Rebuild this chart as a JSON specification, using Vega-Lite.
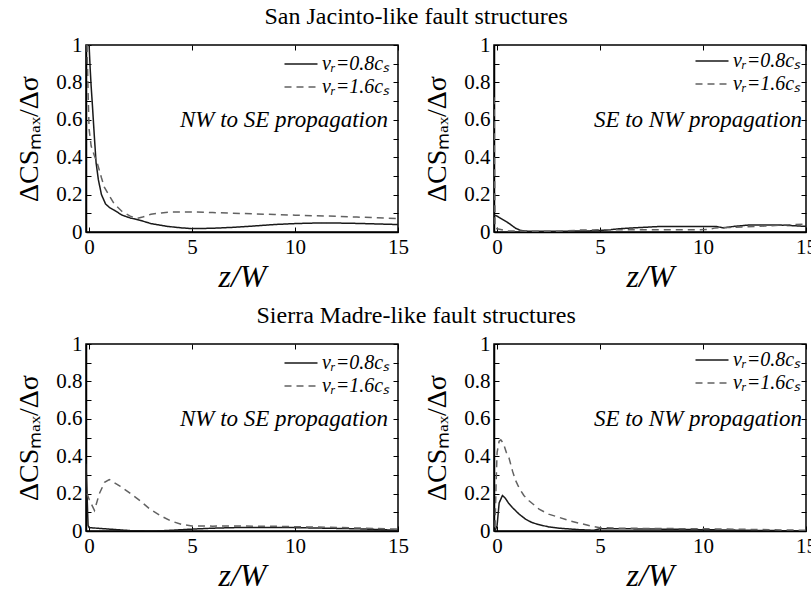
{
  "$schema": "https://vega.github.io/schema/vega-lite/v6.json",
  "background": "white",
  "padding": {"left": 15, "top": 5, "right": 2, "bottom": 2},
  "config": {
    "font": "Liberation Serif, Times New Roman, serif",
    "view": {"stroke": "black", "strokeWidth": 1.5},
    "style": {"guide-label": {"font": "Liberation Serif, Times New Roman, serif"}, "guide-title": {"font": "Liberation Serif, Times New Roman, serif"}, "group-title": {"font": "Liberation Serif, Times New Roman, serif"}},
    "text": {"font": "Liberation Serif, Times New Roman, serif"},
    "axis": {
      "labelFont": "Liberation Serif, Times New Roman, serif", "labelFontSize": 21, "labelColor": "black",
      "titleFont": "Liberation Serif, Times New Roman, serif", "titleColor": "black", "titleFontWeight": "normal",
      "domainColor": "black", "domainWidth": 1.5, "tickColor": "black", "tickWidth": 1,
      "tickSize": -5, "labelPadding": 9, "labelFlush": false, "labelOverlap": false, "grid": false
    },
    "legend": {
      "orient": "top-right", "offset": 8, "padding": 0, "title": null,
      "labelFont": "Liberation Serif, Times New Roman, serif", "labelFontStyle": "italic", "labelFontSize": 20, "labelColor": "black",
      "symbolType": "M-1.65,0H1.65", "symbolSize": 400, "symbolStrokeWidth": 1.4, "rowPadding": 2, "labelOffset": 10
    },
    "title": {"font": "Liberation Serif, Times New Roman, serif", "fontSize": 24, "fontWeight": "normal", "color": "black", "anchor": "middle"}
  },
  "datasets": {
    "sj_nwse": [
      {"s": "vᵣ=0.8cₛ", "z": 0, "v": 1.0}, {"s": "vᵣ=0.8cₛ", "z": 0.05, "v": 0.88}, {"s": "vᵣ=0.8cₛ", "z": 0.1, "v": 0.78},
      {"s": "vᵣ=0.8cₛ", "z": 0.16, "v": 0.68}, {"s": "vᵣ=0.8cₛ", "z": 0.25, "v": 0.52}, {"s": "vᵣ=0.8cₛ", "z": 0.34, "v": 0.37},
      {"s": "vᵣ=0.8cₛ", "z": 0.45, "v": 0.28}, {"s": "vᵣ=0.8cₛ", "z": 0.6, "v": 0.2}, {"s": "vᵣ=0.8cₛ", "z": 0.8, "v": 0.15},
      {"s": "vᵣ=0.8cₛ", "z": 1.0, "v": 0.13}, {"s": "vᵣ=0.8cₛ", "z": 1.25, "v": 0.115}, {"s": "vᵣ=0.8cₛ", "z": 1.6, "v": 0.09},
      {"s": "vᵣ=0.8cₛ", "z": 2.0, "v": 0.075}, {"s": "vᵣ=0.8cₛ", "z": 2.5, "v": 0.062}, {"s": "vᵣ=0.8cₛ", "z": 3.0, "v": 0.045},
      {"s": "vᵣ=0.8cₛ", "z": 3.8, "v": 0.03}, {"s": "vᵣ=0.8cₛ", "z": 4.5, "v": 0.022}, {"s": "vᵣ=0.8cₛ", "z": 5.0, "v": 0.018},
      {"s": "vᵣ=0.8cₛ", "z": 6, "v": 0.02}, {"s": "vᵣ=0.8cₛ", "z": 7, "v": 0.025}, {"s": "vᵣ=0.8cₛ", "z": 8, "v": 0.032},
      {"s": "vᵣ=0.8cₛ", "z": 9, "v": 0.04}, {"s": "vᵣ=0.8cₛ", "z": 10, "v": 0.045}, {"s": "vᵣ=0.8cₛ", "z": 11, "v": 0.048},
      {"s": "vᵣ=0.8cₛ", "z": 12, "v": 0.048}, {"s": "vᵣ=0.8cₛ", "z": 13, "v": 0.046}, {"s": "vᵣ=0.8cₛ", "z": 14, "v": 0.043},
      {"s": "vᵣ=0.8cₛ", "z": 15, "v": 0.04},
      {"s": "vᵣ=1.6cₛ", "z": -0.1, "v": 1.0}, {"s": "vᵣ=1.6cₛ", "z": -0.05, "v": 0.75}, {"s": "vᵣ=1.6cₛ", "z": 0.0, "v": 0.55},
      {"s": "vᵣ=1.6cₛ", "z": 0.1, "v": 0.46}, {"s": "vᵣ=1.6cₛ", "z": 0.25, "v": 0.41}, {"s": "vᵣ=1.6cₛ", "z": 0.42, "v": 0.36},
      {"s": "vᵣ=1.6cₛ", "z": 0.6, "v": 0.29}, {"s": "vᵣ=1.6cₛ", "z": 0.74, "v": 0.24}, {"s": "vᵣ=1.6cₛ", "z": 1.0, "v": 0.19},
      {"s": "vᵣ=1.6cₛ", "z": 1.22, "v": 0.15}, {"s": "vᵣ=1.6cₛ", "z": 1.6, "v": 0.11}, {"s": "vᵣ=1.6cₛ", "z": 2.0, "v": 0.085},
      {"s": "vᵣ=1.6cₛ", "z": 2.3, "v": 0.072}, {"s": "vᵣ=1.6cₛ", "z": 2.6, "v": 0.08}, {"s": "vᵣ=1.6cₛ", "z": 3.0, "v": 0.095},
      {"s": "vᵣ=1.6cₛ", "z": 3.5, "v": 0.102}, {"s": "vᵣ=1.6cₛ", "z": 4.0, "v": 0.107}, {"s": "vᵣ=1.6cₛ", "z": 5.0, "v": 0.107},
      {"s": "vᵣ=1.6cₛ", "z": 6.0, "v": 0.104}, {"s": "vᵣ=1.6cₛ", "z": 7.0, "v": 0.1}, {"s": "vᵣ=1.6cₛ", "z": 8.0, "v": 0.097},
      {"s": "vᵣ=1.6cₛ", "z": 9.0, "v": 0.094}, {"s": "vᵣ=1.6cₛ", "z": 10.0, "v": 0.09}, {"s": "vᵣ=1.6cₛ", "z": 11.0, "v": 0.087},
      {"s": "vᵣ=1.6cₛ", "z": 12.0, "v": 0.084}, {"s": "vᵣ=1.6cₛ", "z": 13.0, "v": 0.08}, {"s": "vᵣ=1.6cₛ", "z": 14.0, "v": 0.076},
      {"s": "vᵣ=1.6cₛ", "z": 15.0, "v": 0.071}
    ],
    "sj_senw": [
      {"s": "vᵣ=0.8cₛ", "z": -0.15, "v": 0.09}, {"s": "vᵣ=0.8cₛ", "z": 0, "v": 0.085}, {"s": "vᵣ=0.8cₛ", "z": 0.3, "v": 0.065},
      {"s": "vᵣ=0.8cₛ", "z": 0.58, "v": 0.046}, {"s": "vᵣ=0.8cₛ", "z": 0.9, "v": 0.02}, {"s": "vᵣ=0.8cₛ", "z": 1.15, "v": 0.008},
      {"s": "vᵣ=0.8cₛ", "z": 1.5, "v": 0.004}, {"s": "vᵣ=0.8cₛ", "z": 3, "v": 0.004}, {"s": "vᵣ=0.8cₛ", "z": 4.5, "v": 0.006},
      {"s": "vᵣ=0.8cₛ", "z": 5.3, "v": 0.01}, {"s": "vᵣ=0.8cₛ", "z": 6, "v": 0.018}, {"s": "vᵣ=0.8cₛ", "z": 6.6, "v": 0.022},
      {"s": "vᵣ=0.8cₛ", "z": 8, "v": 0.03}, {"s": "vᵣ=0.8cₛ", "z": 9.5, "v": 0.03}, {"s": "vᵣ=0.8cₛ", "z": 10.6, "v": 0.03},
      {"s": "vᵣ=0.8cₛ", "z": 11, "v": 0.022}, {"s": "vᵣ=0.8cₛ", "z": 11.5, "v": 0.03}, {"s": "vᵣ=0.8cₛ", "z": 12.2, "v": 0.037},
      {"s": "vᵣ=0.8cₛ", "z": 13.8, "v": 0.037}, {"s": "vᵣ=0.8cₛ", "z": 15, "v": 0.03},
      {"s": "vᵣ=1.6cₛ", "z": -0.15, "v": 0.72}, {"s": "vᵣ=1.6cₛ", "z": -0.1, "v": 0.02}, {"s": "vᵣ=1.6cₛ", "z": 0.5, "v": 0.005},
      {"s": "vᵣ=1.6cₛ", "z": 3, "v": 0.004}, {"s": "vᵣ=1.6cₛ", "z": 4, "v": 0.01}, {"s": "vᵣ=1.6cₛ", "z": 5, "v": 0.012},
      {"s": "vᵣ=1.6cₛ", "z": 7, "v": 0.012}, {"s": "vᵣ=1.6cₛ", "z": 9, "v": 0.012}, {"s": "vᵣ=1.6cₛ", "z": 10.3, "v": 0.013},
      {"s": "vᵣ=1.6cₛ", "z": 10.6, "v": 0.022}, {"s": "vᵣ=1.6cₛ", "z": 12, "v": 0.027}, {"s": "vᵣ=1.6cₛ", "z": 13, "v": 0.032},
      {"s": "vᵣ=1.6cₛ", "z": 14, "v": 0.038}, {"s": "vᵣ=1.6cₛ", "z": 15, "v": 0.042}
    ],
    "sm_nwse": [
      {"s": "vᵣ=0.8cₛ", "z": -0.15, "v": 0.36}, {"s": "vᵣ=0.8cₛ", "z": -0.1, "v": 0.2}, {"s": "vᵣ=0.8cₛ", "z": -0.05, "v": 0.03},
      {"s": "vᵣ=0.8cₛ", "z": 0.0, "v": 0.018}, {"s": "vᵣ=0.8cₛ", "z": 0.5, "v": 0.014}, {"s": "vᵣ=0.8cₛ", "z": 1.0, "v": 0.01},
      {"s": "vᵣ=0.8cₛ", "z": 2.0, "v": 0.002}, {"s": "vᵣ=0.8cₛ", "z": 3.0, "v": 0.0}, {"s": "vᵣ=0.8cₛ", "z": 3.5, "v": 0.001},
      {"s": "vᵣ=0.8cₛ", "z": 4.0, "v": 0.004}, {"s": "vᵣ=0.8cₛ", "z": 5.0, "v": 0.01}, {"s": "vᵣ=0.8cₛ", "z": 6.0, "v": 0.015},
      {"s": "vᵣ=0.8cₛ", "z": 7.0, "v": 0.018}, {"s": "vᵣ=0.8cₛ", "z": 8, "v": 0.019}, {"s": "vᵣ=0.8cₛ", "z": 9, "v": 0.019},
      {"s": "vᵣ=0.8cₛ", "z": 10, "v": 0.018}, {"s": "vᵣ=0.8cₛ", "z": 11, "v": 0.016}, {"s": "vᵣ=0.8cₛ", "z": 12, "v": 0.014},
      {"s": "vᵣ=0.8cₛ", "z": 13, "v": 0.012}, {"s": "vᵣ=0.8cₛ", "z": 14, "v": 0.008}, {"s": "vᵣ=0.8cₛ", "z": 15, "v": 0.004},
      {"s": "vᵣ=1.6cₛ", "z": -0.1, "v": 0.2}, {"s": "vᵣ=1.6cₛ", "z": 0.0, "v": 0.17}, {"s": "vᵣ=1.6cₛ", "z": 0.26, "v": 0.11},
      {"s": "vᵣ=1.6cₛ", "z": 0.5, "v": 0.2}, {"s": "vᵣ=1.6cₛ", "z": 0.75, "v": 0.26}, {"s": "vᵣ=1.6cₛ", "z": 0.98, "v": 0.275},
      {"s": "vᵣ=1.6cₛ", "z": 1.5, "v": 0.24}, {"s": "vᵣ=1.6cₛ", "z": 1.95, "v": 0.205}, {"s": "vᵣ=1.6cₛ", "z": 2.5, "v": 0.16},
      {"s": "vᵣ=1.6cₛ", "z": 2.95, "v": 0.117}, {"s": "vᵣ=1.6cₛ", "z": 3.5, "v": 0.08}, {"s": "vᵣ=1.6cₛ", "z": 3.96, "v": 0.054},
      {"s": "vᵣ=1.6cₛ", "z": 4.5, "v": 0.035}, {"s": "vᵣ=1.6cₛ", "z": 5, "v": 0.027}, {"s": "vᵣ=1.6cₛ", "z": 6, "v": 0.026},
      {"s": "vᵣ=1.6cₛ", "z": 7, "v": 0.027}, {"s": "vᵣ=1.6cₛ", "z": 8, "v": 0.026}, {"s": "vᵣ=1.6cₛ", "z": 9, "v": 0.025},
      {"s": "vᵣ=1.6cₛ", "z": 10, "v": 0.023}, {"s": "vᵣ=1.6cₛ", "z": 11, "v": 0.021}, {"s": "vᵣ=1.6cₛ", "z": 12, "v": 0.019},
      {"s": "vᵣ=1.6cₛ", "z": 13, "v": 0.016}, {"s": "vᵣ=1.6cₛ", "z": 14, "v": 0.013}, {"s": "vᵣ=1.6cₛ", "z": 15, "v": 0.01}
    ],
    "sm_senw": [
      {"s": "vᵣ=0.8cₛ", "z": -0.1, "v": 0.0}, {"s": "vᵣ=0.8cₛ", "z": 0.0, "v": 0.03}, {"s": "vᵣ=0.8cₛ", "z": 0.1, "v": 0.15},
      {"s": "vᵣ=0.8cₛ", "z": 0.26, "v": 0.19}, {"s": "vᵣ=0.8cₛ", "z": 0.4, "v": 0.175}, {"s": "vᵣ=0.8cₛ", "z": 0.55, "v": 0.15},
      {"s": "vᵣ=0.8cₛ", "z": 0.74, "v": 0.126}, {"s": "vᵣ=0.8cₛ", "z": 1.07, "v": 0.09}, {"s": "vᵣ=0.8cₛ", "z": 1.4, "v": 0.062},
      {"s": "vᵣ=0.8cₛ", "z": 1.7, "v": 0.045}, {"s": "vᵣ=0.8cₛ", "z": 2.0, "v": 0.035}, {"s": "vᵣ=0.8cₛ", "z": 2.5, "v": 0.022},
      {"s": "vᵣ=0.8cₛ", "z": 3, "v": 0.015}, {"s": "vᵣ=0.8cₛ", "z": 4, "v": 0.007}, {"s": "vᵣ=0.8cₛ", "z": 4.7, "v": 0.004},
      {"s": "vᵣ=0.8cₛ", "z": 5, "v": 0.012}, {"s": "vᵣ=0.8cₛ", "z": 6, "v": 0.012}, {"s": "vᵣ=0.8cₛ", "z": 7, "v": 0.011},
      {"s": "vᵣ=0.8cₛ", "z": 8, "v": 0.01}, {"s": "vᵣ=0.8cₛ", "z": 10, "v": 0.007}, {"s": "vᵣ=0.8cₛ", "z": 12, "v": 0.004},
      {"s": "vᵣ=0.8cₛ", "z": 15, "v": 0.0},
      {"s": "vᵣ=1.6cₛ", "z": -0.1, "v": 0.02}, {"s": "vᵣ=1.6cₛ", "z": -0.05, "v": 0.25}, {"s": "vᵣ=1.6cₛ", "z": 0.0, "v": 0.42},
      {"s": "vᵣ=1.6cₛ", "z": 0.1, "v": 0.48}, {"s": "vᵣ=1.6cₛ", "z": 0.18, "v": 0.487}, {"s": "vᵣ=1.6cₛ", "z": 0.3, "v": 0.47},
      {"s": "vᵣ=1.6cₛ", "z": 0.45, "v": 0.42}, {"s": "vᵣ=1.6cₛ", "z": 0.58, "v": 0.39}, {"s": "vᵣ=1.6cₛ", "z": 0.75, "v": 0.32},
      {"s": "vᵣ=1.6cₛ", "z": 0.9, "v": 0.27}, {"s": "vᵣ=1.6cₛ", "z": 1.07, "v": 0.23}, {"s": "vᵣ=1.6cₛ", "z": 1.3, "v": 0.19},
      {"s": "vᵣ=1.6cₛ", "z": 1.55, "v": 0.162}, {"s": "vᵣ=1.6cₛ", "z": 2.04, "v": 0.117}, {"s": "vᵣ=1.6cₛ", "z": 2.5, "v": 0.09},
      {"s": "vᵣ=1.6cₛ", "z": 3.04, "v": 0.072}, {"s": "vᵣ=1.6cₛ", "z": 3.5, "v": 0.055}, {"s": "vᵣ=1.6cₛ", "z": 4.06, "v": 0.04},
      {"s": "vᵣ=1.6cₛ", "z": 4.5, "v": 0.028}, {"s": "vᵣ=1.6cₛ", "z": 5, "v": 0.018}, {"s": "vᵣ=1.6cₛ", "z": 6, "v": 0.015},
      {"s": "vᵣ=1.6cₛ", "z": 7, "v": 0.014}, {"s": "vᵣ=1.6cₛ", "z": 8, "v": 0.013}, {"s": "vᵣ=1.6cₛ", "z": 10, "v": 0.012},
      {"s": "vᵣ=1.6cₛ", "z": 12, "v": 0.009}, {"s": "vᵣ=1.6cₛ", "z": 15, "v": 0.004}
    ]
  },
  "spacing": 11,
  "vconcat": [
    {
      "title": {"text": "San Jacinto-like fault structures", "offset": 4},
      "spacing": 13,
      "hconcat": [
        {
          "width": 312, "height": 187,
          "data": {"name": "sj_nwse"},
          "layer": [
            {
              "mark": {"type": "line", "strokeWidth": 1.5, "clip": true},
              "encoding": {
                "x": {"field": "z", "type": "quantitative", "scale": {"domain": [-0.15, 15], "nice": false, "zero": false}, "axis": {"orient": "bottom", "values": [0, 5, 10, 15], "title": "z/W", "titleFontSize": 32, "titleFontStyle": "italic", "titlePadding": 4}},
                "y": {"field": "v", "type": "quantitative", "scale": {"domain": [0, 1], "nice": false}, "axis": {"orient": "left", "values": [0, 0.1, 0.2, 0.3, 0.4, 0.5, 0.6, 0.7, 0.8, 0.9, 1], "labelExpr": "round(datum.value*10) % 2 == 0 ? format(datum.value, '~g') : ''", "title": "ΔCSₘₐₓ/Δσ", "titleFontSize": 28, "titlePadding": 12}},
                "color": {"field": "s", "type": "nominal", "scale": {"domain": ["vᵣ=0.8cₛ", "vᵣ=1.6cₛ"], "range": ["#1a1a1a", "#626262"]}, "legend": {"offset": 8}},
                "strokeDash": {"field": "s", "type": "nominal", "scale": {"domain": ["vᵣ=0.8cₛ", "vᵣ=1.6cₛ"], "range": [[1, 0], [7, 5]]}, "legend": {"offset": 8}}
              }
            },
            {
              "data": {"values": [{}]},
              "mark": {"type": "text", "align": "right", "baseline": "middle", "fontStyle": "italic", "fontSize": 23, "dx": -10, "color": "black"},
              "encoding": {
                "x": {"datum": 15, "type": "quantitative", "axis": {"orient": "top", "values": [0, 5, 10, 15], "labels": false, "title": null, "domain": false}},
                "y": {"datum": 0.6, "type": "quantitative", "axis": {"orient": "right", "values": [0, 0.1, 0.2, 0.3, 0.4, 0.5, 0.6, 0.7, 0.8, 0.9, 1], "labels": false, "title": null, "domain": false}},
                "text": {"value": "NW to SE propagation"}
              }
            }
          ],
          "resolve": {"axis": {"x": "independent", "y": "independent"}}
        },
        {
          "width": 312, "height": 187,
          "data": {"name": "sj_senw"},
          "layer": [
            {
              "mark": {"type": "line", "strokeWidth": 1.5, "clip": true},
              "encoding": {
                "x": {"field": "z", "type": "quantitative", "scale": {"domain": [-0.15, 15], "nice": false, "zero": false}, "axis": {"orient": "bottom", "values": [0, 5, 10, 15], "title": "z/W", "titleFontSize": 32, "titleFontStyle": "italic", "titlePadding": 4}},
                "y": {"field": "v", "type": "quantitative", "scale": {"domain": [0, 1], "nice": false}, "axis": {"orient": "left", "values": [0, 0.1, 0.2, 0.3, 0.4, 0.5, 0.6, 0.7, 0.8, 0.9, 1], "labelExpr": "round(datum.value*10) % 2 == 0 ? format(datum.value, '~g') : ''", "title": "ΔCSₘₐₓ/Δσ", "titleFontSize": 28, "titlePadding": 12}},
                "color": {"field": "s", "type": "nominal", "scale": {"domain": ["vᵣ=0.8cₛ", "vᵣ=1.6cₛ"], "range": ["#1a1a1a", "#626262"]}, "legend": {"offset": 5}},
                "strokeDash": {"field": "s", "type": "nominal", "scale": {"domain": ["vᵣ=0.8cₛ", "vᵣ=1.6cₛ"], "range": [[1, 0], [7, 5]]}, "legend": {"offset": 5}}
              }
            },
            {
              "data": {"values": [{}]},
              "mark": {"type": "text", "align": "right", "baseline": "middle", "fontStyle": "italic", "fontSize": 23, "dx": -4, "color": "black"},
              "encoding": {
                "x": {"datum": 15, "type": "quantitative", "axis": {"orient": "top", "values": [0, 5, 10, 15], "labels": false, "title": null, "domain": false}},
                "y": {"datum": 0.6, "type": "quantitative", "axis": {"orient": "right", "values": [0, 0.1, 0.2, 0.3, 0.4, 0.5, 0.6, 0.7, 0.8, 0.9, 1], "labels": false, "title": null, "domain": false}},
                "text": {"value": "SE to NW propagation"}
              }
            }
          ],
          "resolve": {"axis": {"x": "independent", "y": "independent"}}
        }
      ],
      "resolve": {"scale": {"color": "independent", "strokeDash": "independent"}}
    },
    {
      "title": {"text": "Sierra Madre-like fault structures", "offset": 4},
      "spacing": 13,
      "hconcat": [
        {
          "width": 312, "height": 187,
          "data": {"name": "sm_nwse"},
          "layer": [
            {
              "mark": {"type": "line", "strokeWidth": 1.5, "clip": true},
              "encoding": {
                "x": {"field": "z", "type": "quantitative", "scale": {"domain": [-0.15, 15], "nice": false, "zero": false}, "axis": {"orient": "bottom", "values": [0, 5, 10, 15], "title": "z/W", "titleFontSize": 32, "titleFontStyle": "italic", "titlePadding": 4}},
                "y": {"field": "v", "type": "quantitative", "scale": {"domain": [0, 1], "nice": false}, "axis": {"orient": "left", "values": [0, 0.1, 0.2, 0.3, 0.4, 0.5, 0.6, 0.7, 0.8, 0.9, 1], "labelExpr": "round(datum.value*10) % 2 == 0 ? format(datum.value, '~g') : ''", "title": "ΔCSₘₐₓ/Δσ", "titleFontSize": 28, "titlePadding": 12}},
                "color": {"field": "s", "type": "nominal", "scale": {"domain": ["vᵣ=0.8cₛ", "vᵣ=1.6cₛ"], "range": ["#1a1a1a", "#626262"]}, "legend": {"offset": 8}},
                "strokeDash": {"field": "s", "type": "nominal", "scale": {"domain": ["vᵣ=0.8cₛ", "vᵣ=1.6cₛ"], "range": [[1, 0], [7, 5]]}, "legend": {"offset": 8}}
              }
            },
            {
              "data": {"values": [{}]},
              "mark": {"type": "text", "align": "right", "baseline": "middle", "fontStyle": "italic", "fontSize": 23, "dx": -10, "color": "black"},
              "encoding": {
                "x": {"datum": 15, "type": "quantitative", "axis": {"orient": "top", "values": [0, 5, 10, 15], "labels": false, "title": null, "domain": false}},
                "y": {"datum": 0.6, "type": "quantitative", "axis": {"orient": "right", "values": [0, 0.1, 0.2, 0.3, 0.4, 0.5, 0.6, 0.7, 0.8, 0.9, 1], "labels": false, "title": null, "domain": false}},
                "text": {"value": "NW to SE propagation"}
              }
            }
          ],
          "resolve": {"axis": {"x": "independent", "y": "independent"}}
        },
        {
          "width": 312, "height": 187,
          "data": {"name": "sm_senw"},
          "layer": [
            {
              "mark": {"type": "line", "strokeWidth": 1.5, "clip": true},
              "encoding": {
                "x": {"field": "z", "type": "quantitative", "scale": {"domain": [-0.15, 15], "nice": false, "zero": false}, "axis": {"orient": "bottom", "values": [0, 5, 10, 15], "title": "z/W", "titleFontSize": 32, "titleFontStyle": "italic", "titlePadding": 4}},
                "y": {"field": "v", "type": "quantitative", "scale": {"domain": [0, 1], "nice": false}, "axis": {"orient": "left", "values": [0, 0.1, 0.2, 0.3, 0.4, 0.5, 0.6, 0.7, 0.8, 0.9, 1], "labelExpr": "round(datum.value*10) % 2 == 0 ? format(datum.value, '~g') : ''", "title": "ΔCSₘₐₓ/Δσ", "titleFontSize": 28, "titlePadding": 12}},
                "color": {"field": "s", "type": "nominal", "scale": {"domain": ["vᵣ=0.8cₛ", "vᵣ=1.6cₛ"], "range": ["#1a1a1a", "#626262"]}, "legend": {"offset": 5}},
                "strokeDash": {"field": "s", "type": "nominal", "scale": {"domain": ["vᵣ=0.8cₛ", "vᵣ=1.6cₛ"], "range": [[1, 0], [7, 5]]}, "legend": {"offset": 5}}
              }
            },
            {
              "data": {"values": [{}]},
              "mark": {"type": "text", "align": "right", "baseline": "middle", "fontStyle": "italic", "fontSize": 23, "dx": -4, "color": "black"},
              "encoding": {
                "x": {"datum": 15, "type": "quantitative", "axis": {"orient": "top", "values": [0, 5, 10, 15], "labels": false, "title": null, "domain": false}},
                "y": {"datum": 0.6, "type": "quantitative", "axis": {"orient": "right", "values": [0, 0.1, 0.2, 0.3, 0.4, 0.5, 0.6, 0.7, 0.8, 0.9, 1], "labels": false, "title": null, "domain": false}},
                "text": {"value": "SE to NW propagation"}
              }
            }
          ],
          "resolve": {"axis": {"x": "independent", "y": "independent"}}
        }
      ],
      "resolve": {"scale": {"color": "independent", "strokeDash": "independent"}}
    }
  ],
  "resolve": {"scale": {"color": "independent", "strokeDash": "independent"}}
}
